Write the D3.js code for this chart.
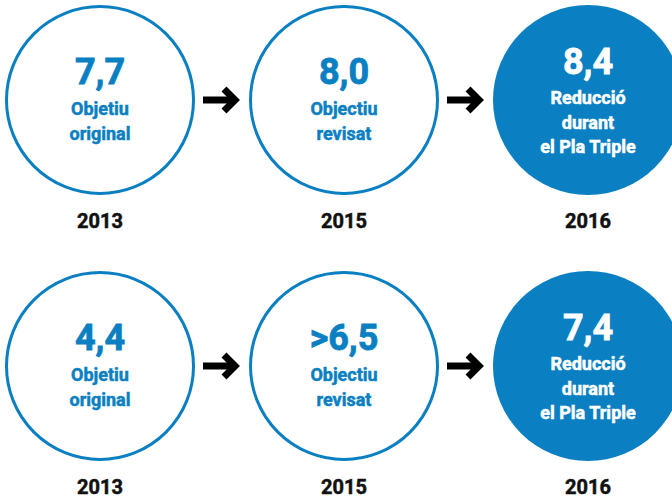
<!DOCTYPE html>
<html>
<head>
<meta charset="utf-8">
<script src="https://cdn.jsdelivr.net/npm/d3@7"></script>
<style>
  html, body { margin: 0; padding: 0; background: #fff; }
  svg { display: block; font-family: Roboto, "Liberation Sans", sans-serif; }
</style>
</head>
<body>
<div id="chart"></div>
<script>
// data
let years = ['2013', '2015', '2016'];
let rows = ['top', 'bottom'];
let topValues = ['7,7', '8,0', '8,4'];
let bottomValues = ['4,4', '>6,5', '7,4'];
let stepLabels = [['Objetiu', 'original'], ['Objectiu', 'revisat'], ['Reducció', 'durant', 'el Pla Triple']];
let filled = [false, false, true];

let width = 672, height = 499;
let blue = '#0a7fc2';
let r = 93.5;

let $svg = d3.select('#chart').append('svg')
    .attr('width', width)
    .attr('height', height);

let x = d3.scalePoint().domain(years).range([100, 588]);
let y = d3.scalePoint().domain(rows).range([100, 366]);

let rowData = [
    {row: 'top', values: topValues, yearY: 228},
    {row: 'bottom', values: bottomValues, yearY: 494}
];

rowData.forEach(d => {
    let cy = y(d.row);
    let $g = $svg.append('g');

    let cells = years.map((yr, i) => ({year: yr, value: d.values[i], lines: stepLabels[i], filled: filled[i]}));

    let $cell = $g.selectAll('g.cell').data(cells).enter()
        .append('g')
        .attr('class', 'cell')
        .attr('transform', c => `translate(${x(c.year)},${cy})`);

    $cell.append('circle')
        .attr('r', c => c.filled ? r + 1.5 : r)
        .attr('fill', c => c.filled ? blue : '#fff')
        .attr('stroke', c => c.filled ? 'none' : blue)
        .attr('stroke-width', 3);

    // number
    $cell.append('text')
        .attr('text-anchor', 'middle')
        .attr('y', c => c.filled ? -26 : -16)
        .attr('font-size', 36)
        .attr('font-weight', 700)
        .attr('fill', c => c.filled ? '#fff' : blue)
        .attr('stroke', c => c.filled ? '#fff' : blue)
        .attr('stroke-width', 0.8)
        .text(c => c.value);

    // label lines
    $cell.each(function(c) {
        let y0 = c.filled ? 4 : 15;
        let col = c.filled ? '#fff' : blue;
        d3.select(this).selectAll('text.lbl').data(c.lines).enter()
            .append('text')
            .attr('class', 'lbl')
            .attr('text-anchor', 'middle')
            .attr('y', (t, j) => y0 + j * 24.5)
            .attr('font-size', 18)
            .attr('font-weight', 700)
            .attr('fill', col)
            .attr('stroke', col)
            .attr('stroke-width', 0.5)
            .text(t => t);
    });

    // years
    $g.selectAll('text.year').data(years).enter()
        .append('text')
        .attr('class', 'year')
        .attr('text-anchor', 'middle')
        .attr('x', yr => x(yr))
        .attr('y', d.yearY)
        .attr('font-size', 20)
        .attr('font-weight', 700)
        .attr('fill', '#111')
        .attr('stroke', '#111')
        .attr('stroke-width', 0.5)
        .text(yr => yr);

    // arrows between circles
    let mids = d3.pairs(years).map(([a, b]) => (x(a) + x(b)) / 2);
    let $arrow = $g.selectAll('g.arrow').data(mids).enter()
        .append('g')
        .attr('class', 'arrow')
        .attr('transform', m => `translate(${m},${cy})`);
    $arrow.append('line')
        .attr('x1', -19).attr('x2', 11)
        .attr('y1', 0).attr('y2', 0)
        .attr('stroke', '#000')
        .attr('stroke-width', 7);
    $arrow.append('path')
        .attr('d', 'M2,-11 L13,0 L2,11')
        .attr('fill', 'none')
        .attr('stroke', '#000')
        .attr('stroke-width', 7)
        .attr('stroke-linejoin', 'miter');
});
</script>
</body>
</html>
